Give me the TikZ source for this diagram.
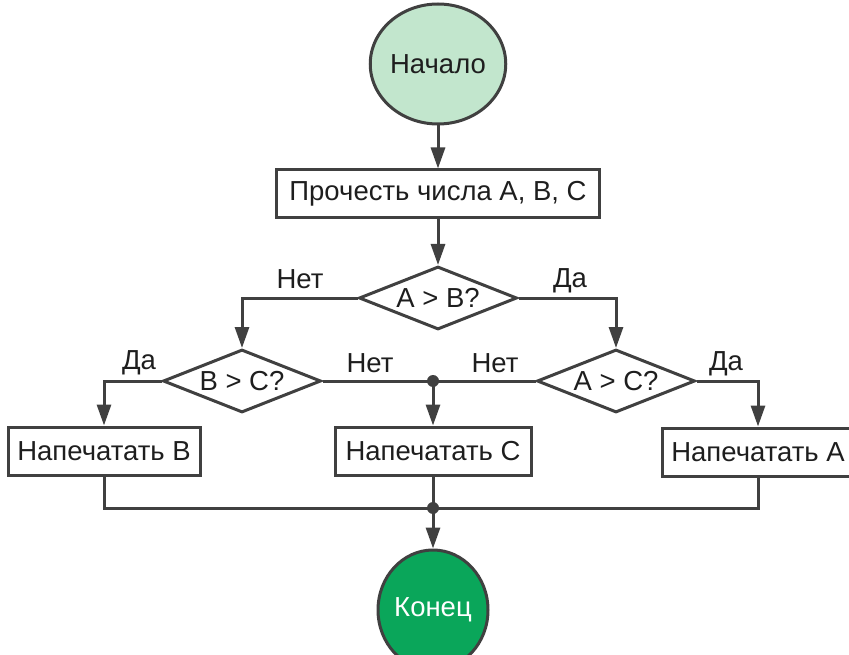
\documentclass[tikz,border=0pt]{standalone}
\usepackage{fontspec}
\setmainfont{Liberation Sans}
\usetikzlibrary{shapes.geometric,arrows.meta}
\definecolor{linegray}{HTML}{404040}
\definecolor{textgray}{HTML}{1E1E1E}
\definecolor{startgreen}{HTML}{C2E6CD}
\definecolor{stopgreen}{HTML}{0AA65A}
\tikzset{
  base/.style={draw=linegray, line width=3pt, text=textgray, inner sep=0pt,
    font=\fontsize{27.5}{32}\selectfont},
  terminal/.style={base, ellipse, minimum width=110pt, minimum height=120pt},
  process/.style={base, rectangle, minimum width=#1, minimum height=48pt},
  decision/.style={base, diamond, aspect=2.5, minimum width=158pt, minimum height=63pt},
  answer/.style={text=textgray, inner sep=0pt, font=\fontsize{27.5}{32}\selectfont},
  wire/.style={draw=linegray, line width=3pt},
  flow/.style={wire, -{Triangle[length=21pt,width=14pt]}},
  joint/.style={circle, fill=linegray, inner sep=0pt, minimum size=12pt}
}
\begin{document}
\begin{tikzpicture}[x=1pt,y=-1pt]
\useasboundingbox (0,0) rectangle (849,655);

% Terminal nodes
\node [terminal, fill=startgreen] (start) at (438,64) {Начало};
\node [terminal, fill=stopgreen, text=white] (stop) at (433,610) {Конец};

% Reading the numbers
\node [process=323pt] (read) at (438,194) {Прочесть числа A, B, C};

% Decisions
\node [decision] (ab) at (438,298) {A > B?};
\node [decision] (bc) at (242,381) {B > C?};
\node [decision] (ac) at (616,381) {A > C?};

% Printing
\node [process=192pt] (prb) at (104,451) {Напечатать B};
\node [process=196pt] (prc) at (433,451) {Напечатать C};
\node [process=192pt] (pra) at (758,452) {Напечатать A};

% Junctions
\coordinate (j1) at (433,381);
\coordinate (j2) at (433,508);

% Connectors
\draw [flow] (start) -- (read);
\draw [flow] (read) -- (ab);
\draw [flow] (ab.west) -| (bc.north);
\draw [flow] (ab.east) -| (ac.north);
\draw [flow] (bc.west) -| (prb.north);
\draw [flow] (ac.east) -| (pra.north);
\draw [wire] (bc.east) -- (ac.west);
\draw [flow] (j1) -- (prc);
\draw [wire] (prb.south) |- (j2) -| (pra.south);
\draw [wire] (prc) -- (j2);
\draw [flow] (j2) -- (stop);
\node [joint] (dot1) at (j1) {};
\node [joint] (dot2) at (j2) {};

% Answers
\node [answer] (abno) at (300,279) {Нет};
\node [answer] (abyes) at (570,281) {Да};
\node [answer] (bcyes) at (139,363) {Да};
\node [answer] (bcno) at (370,363) {Нет};
\node [answer] (acno) at (495,363) {Нет};
\node [answer] (acyes) at (726,364) {Да};
\end{tikzpicture}
\end{document}
